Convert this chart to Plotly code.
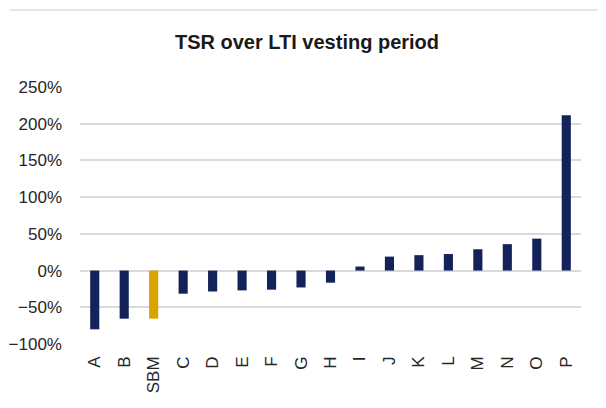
import plotly.graph_objects as go

# companies ranked by TSR over the LTI vesting period
companies = ['A', 'B', 'SBM', 'C', 'D', 'E', 'F', 'G', 'H', 'I',
             'J', 'K', 'L', 'M', 'N', 'O', 'P']
tsr_pct = [-80, -65.5, -65.5, -31.5, -28.5, -27, -26, -23, -16.5, 5.5,
           19, 21, 22.5, 29, 36, 43.5, 211.5]
highlight = 'SBM'

NAVY = '#13235a'
GOLD = '#d9a400'

bar_colors = [GOLD if c == highlight else NAVY for c in companies]

fig = go.Figure(go.Bar(
    x=companies,
    y=tsr_pct,
    marker=dict(color=bar_colors, line=dict(width=0)),
    width=0.31,
))

# page body adds an 8px margin, so the figure is sized to fit inside the window
fig.update_layout(
    width=598,
    height=400,
    margin=dict(l=72, r=25, t=79, b=64),
    paper_bgcolor='white',
    plot_bgcolor='white',
    showlegend=False,
    font=dict(family='Liberation Sans, Arial, sans-serif', size=17, color='#262626'),
    title=dict(
        text='<b>TSR over LTI vesting period</b>',
        x=0.5,
        xanchor='center',
        y=0.915,
        yanchor='middle',
        font=dict(size=20, color='#1a1a1a'),
    ),
    bargap=0.69,
)

fig.update_yaxes(
    range=[-100, 250],
    dtick=50,
    ticksuffix='%',
    showgrid=True,
    gridcolor='#d9d9d9',
    gridwidth=1.5,
    zeroline=True,
    zerolinecolor='#d9d9d9',
    zerolinewidth=1.5,
    showline=False,
    automargin=False,
    ticklabelstandoff=17,
)

fig.update_xaxes(
    tickangle=-90,
    showline=False,
    showgrid=False,
    ticks='',
    automargin=False,
    ticklabelstandoff=8,
)

# faint frame line across the top of the panel
fig.add_shape(
    type='line', xref='paper', yref='paper',
    x0=-0.14, x1=1.06, y0=1.30, y1=1.30,
    line=dict(color='#dddddd', width=1.5),
)

fig.write_html('out.html')
